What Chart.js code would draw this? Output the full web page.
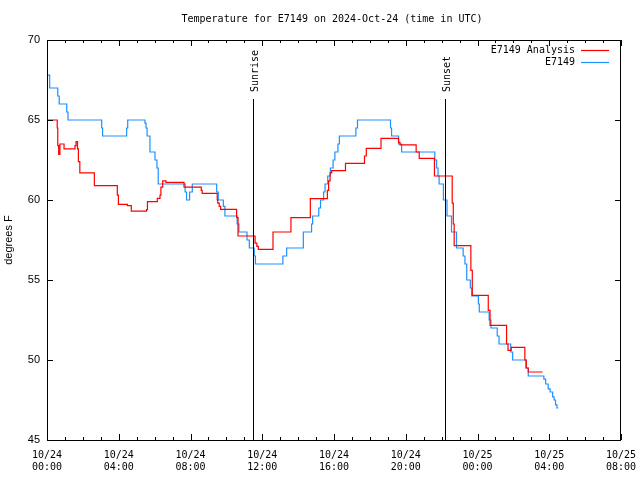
<!DOCTYPE html>
<html lang="en">
<head>
<meta charset="UTF-8">
<title>Temperature for E7149</title>
<script src="https://cdn.jsdelivr.net/npm/chart.js"></script>
<style>
  body { margin: 0; background: #fff; }
  #wrap { width: 640px; height: 480px; }
</style>
</head>
<body>
<div id="wrap"><canvas id="tempChart" width="640" height="480"></canvas></div>
<script>
// hours since 10/24 00:00 UTC, level starts at that hour
const obsHours = [0, 0.15, 0.6, 0.68, 1.1, 1.17, 3.05, 3.1, 4.44, 4.5, 5.46, 5.52, 5.58, 5.74, 6.02, 6.13, 6.2,
  7.7, 7.78, 7.95, 8.1, 9.46, 9.55, 9.83, 9.92, 10.6, 10.7, 11.15, 11.28, 11.55, 11.62, 13.15, 13.36,
  14.29, 14.75, 14.81, 15.15, 15.25, 15.42, 15.5, 15.65, 15.8, 15.95, 16.05, 16.22, 16.3, 17.22, 17.31,
  19.15, 19.21, 19.6, 19.77, 21.62, 21.72, 21.8, 21.86, 22.1, 22.3, 22.55, 22.83, 23.2, 23.3, 23.4,
  23.6, 23.68, 24.05, 24.1, 24.65, 24.75, 25.1, 25.2, 25.85, 25.96, 26.7, 26.83, 27.7, 27.8, 27.94,
  28.05, 28.19, 28.27, 28.35, 28.43, 28.5];
const obsTemps = [67.8, 67.0, 66.5, 66.0, 65.5, 65.0, 64.5, 64.0, 64.5, 65.0, 64.8, 64.5, 64.0, 63.0, 62.5, 62.0, 61.0,
  60.5, 60.0, 60.5, 61.0, 60.5, 60.0, 59.6, 59.0, 58.5, 58.0, 57.5, 57.0, 56.5, 56.0, 56.5, 57.0,
  58.0, 58.5, 59.0, 59.5, 60.0, 60.5, 61.0, 61.5, 62.0, 62.5, 63.0, 63.5, 64.0, 64.5, 65.0,
  64.5, 64.0, 63.5, 63.0, 62.5, 62.0, 61.5, 61.0, 60.0, 59.0, 58.0, 57.0, 56.5, 56.0, 55.0,
  54.5, 54.0, 53.5, 53.0, 52.5, 52.0, 51.5, 51.0, 50.5, 50.0, 49.5, 49.0, 48.8, 48.5,
  48.2, 48.0, 47.7, 47.5, 47.2, 47.0, 47.0];

const anaHours = [0, 0.57, 0.6, 0.65, 0.72, 0.95, 1.56, 1.62, 1.7, 1.75, 1.83, 2.64, 3.92, 3.98, 4.48, 4.7, 5.55, 5.6,
  6.15, 6.3, 6.35, 6.45, 6.63, 7.64, 8.6, 8.65, 9.49, 9.52, 9.6, 9.68, 10.57, 10.65, 11.6, 11.7, 11.78,
  12.6, 13.6, 14.68, 15.63, 15.7, 15.78, 15.87, 16.64, 17.7, 17.8, 18.62, 19.6, 19.68, 20.58, 20.75,
  21.6, 22.59, 22.65, 22.7, 23.63, 23.71, 24.6, 24.7, 25.62, 25.7, 25.88, 26.64, 26.72, 26.83, 27.63];
const anaTemps = [65.0, 64.5, 63.4, 62.85, 63.5, 63.2, 63.4, 63.65, 63.2, 62.4, 61.7, 60.9, 60.3, 59.73, 59.65, 59.3, 59.4, 59.9,
  60.1, 60.3, 60.8, 61.2, 61.1, 60.8, 60.6, 60.42, 60.0, 59.8, 59.6, 59.42, 58.9, 57.75, 57.3, 57.1, 56.92,
  58.0, 58.9, 60.08, 60.6, 61.2, 61.7, 61.83, 62.29, 62.75, 63.23, 63.85, 63.6, 63.44, 63.0, 62.6,
  61.5, 59.8, 58.5, 57.15, 55.6, 54.04, 53.1, 52.17, 51.0, 50.6, 50.79, 50.0, 49.5, 49.25, 49.25];

const xTickLabels = [['10/24', '00:00'], ['10/24', '04:00'], ['10/24', '08:00'], ['10/24', '12:00'],
  ['10/24', '16:00'], ['10/24', '20:00'], ['10/25', '00:00'], ['10/25', '04:00'], ['10/25', '08:00']];
const yTicks = [45, 50, 55, 60, 65, 70];

const sunEvents = ['Sunrise', 'Sunset'];
const sunHours = [11.5, 22.18];

const chartTitle = 'Temperature for E7149 on 2024-Oct-24 (time in UTC)';

Chart.defaults.font.family = 'DejaVu Sans Mono';
Chart.defaults.font.size = 10;
Chart.defaults.color = '#000';

// title, frame, inward ticks, sunrise/sunset markers and legend, gnuplot style
const overlay = {
  id: 'overlay',
  afterDatasetsDraw(chart) {
    const { ctx, chartArea: a, scales: { x, y } } = chart;
    ctx.save();
    ctx.fillStyle = '#000';
    ctx.font = '10px "DejaVu Sans Mono"';
    ctx.textAlign = 'center';
    ctx.textBaseline = 'middle';
    ctx.fillText(chartTitle, 332, 19);

    ctx.strokeStyle = '#000';
    ctx.lineWidth = 1;
    ctx.strokeRect(a.left + 0.5, a.top + 0.5, a.right - a.left - 1, a.bottom - a.top);

    ctx.beginPath();
    for (let h = 0; h <= 32; h++) {
      const px = Math.round(x.getPixelForValue(h)) + 0.5;
      const len = h % 4 === 0 ? 6 : 3;
      ctx.moveTo(px, a.bottom); ctx.lineTo(px, a.bottom - len);
      ctx.moveTo(px, a.top); ctx.lineTo(px, a.top + len);
    }
    yTicks.forEach(v => {
      const py = Math.round(y.getPixelForValue(v)) + 0.5;
      ctx.moveTo(a.left, py); ctx.lineTo(a.left + 6, py);
      ctx.moveTo(a.right, py); ctx.lineTo(a.right - 6, py);
    });
    ctx.stroke();

    sunEvents.forEach((name, i) => {
      const px = Math.round(x.getPixelForValue(sunHours[i])) + 0.5;
      ctx.beginPath();
      ctx.moveTo(px, a.top + 59);
      ctx.lineTo(px, a.bottom);
      ctx.stroke();
      ctx.save();
      ctx.translate(px + 2, a.top + 52);
      ctx.rotate(-Math.PI / 2);
      ctx.textAlign = 'left';
      ctx.textBaseline = 'middle';
      ctx.fillText(name, 0, 0);
      ctx.restore();
    });

    // legend in the top right corner
    ctx.textAlign = 'right';
    ctx.textBaseline = 'middle';
    chart.data.datasets.forEach((ds, i) => {
      const ly = a.top + 10 + i * 12;
      ctx.fillText(ds.label, a.right - 46, ly);
      ctx.strokeStyle = ds.borderColor;
      ctx.lineWidth = 1.2;
      ctx.beginPath();
      ctx.moveTo(a.right - 40, ly + 0.5);
      ctx.lineTo(a.right - 12, ly + 0.5);
      ctx.stroke();
    });
    ctx.restore();
  }
};

new Chart(document.getElementById('tempChart'), {
  type: 'line',
  data: {
    datasets: [
      {
        label: 'E7149 Analysis',
        data: anaHours.map((h, i) => ({ x: h, y: anaTemps[i] })),
        borderColor: '#ff0000',
        borderWidth: 1.2,
        pointRadius: 0,
        stepped: true,
        fill: false
      },
      {
        label: 'E7149',
        data: obsHours.map((h, i) => ({ x: h, y: obsTemps[i] })),
        borderColor: '#1e90ff',
        borderWidth: 1.2,
        pointRadius: 0,
        stepped: true,
        fill: false
      }
    ]
  },
  options: {
    responsive: false,
    animation: false,
    layout: { padding: { left: 0, right: 19, top: 40, bottom: 0 } },
    plugins: {
      legend: { display: false },
      tooltip: { enabled: false },
      title: { display: false }
    },
    scales: {
      x: {
        type: 'linear',
        min: 0,
        max: 32,
        grid: { display: false, drawTicks: false },
        border: { display: false },
        afterFit: s => { s.height = 40; s.paddingLeft = 0; s.paddingRight = 0; },
        afterBuildTicks: s => { s.ticks = xTickLabels.map((_, i) => ({ value: i * 4 })); },
        ticks: {
          padding: 9,
          maxRotation: 0,
          autoSkip: false,
          font: { family: 'DejaVu Sans Mono', size: 10, lineHeight: 1.2 },
          callback: v => xTickLabels[v / 4]
        }
      },
      y: {
        min: 45,
        max: 70,
        grid: { display: false, drawTicks: false },
        border: { display: false },
        afterFit: s => { s.width = 47; s.paddingTop = 0; s.paddingBottom = 0; },
        afterBuildTicks: s => { s.ticks = yTicks.map(v => ({ value: v })); },
        ticks: {
          padding: 7,
          font: { family: 'Liberation Sans', size: 11 }
        },
        title: {
          display: true,
          text: 'degrees F',
          font: { family: 'Liberation Sans', size: 11 },
          padding: { top: 2, bottom: 0 }
        }
      }
    }
  },
  plugins: [overlay]
});
</script>
</body>
</html>
